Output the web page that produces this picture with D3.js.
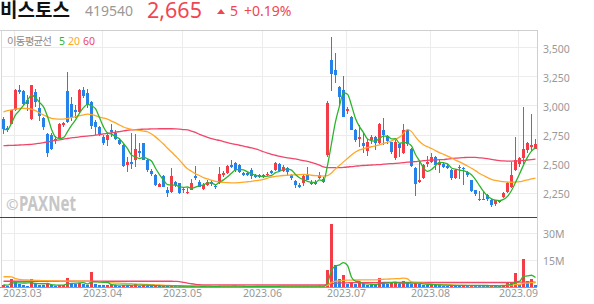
<!DOCTYPE html>
<html>
<head>
<meta charset="utf-8">
<script src="https://cdn.jsdelivr.net/npm/d3@7"></script>
<style>
  html, body { margin: 0; padding: 0; background: #fff; }
  svg { display: block; font-family: "Noto Sans", "Noto Sans CJK KR", sans-serif; }
</style>
</head>
<body>
<svg id="chart" width="594" height="304"></svg>
<script>
// trading days: weekdays from firstDay to lastDay minus KRX holidays
var firstDay = '2023-02-24', lastDay = '2023-09-07';
var holidays = ['2023-03-01', '2023-05-01', '2023-05-05', '2023-05-29', '2023-06-06', '2023-08-15'];

var stockName = '비스토스', stockCode = '419540';

var opens = [2880,2810,2845,2960,3135,3125,3045,2880,3120,2975,2890,2755,2745,2715,2715,2830,3125,3010,2960,2945,
  3135,3110,3030,2860,2815,2730,2700,2790,2760,2705,2660,2485,2515,2530,2610,2675,2530,2435,2405,2300,
  2395,2275,2260,2340,2330,2270,2245,2275,2390,2345,2285,2320,2345,2310,2330,2400,2420,2490,2505,2490,
  2420,2420,2445,2405,2405,2405,2400,2435,2445,2500,2440,2465,2405,2350,2315,2330,2400,2345,2345,2375,
  2370,2575,3390,3305,3160,3135,2950,2900,2790,2710,2675,2610,2705,2730,2675,2785,2735,2685,2545,2665,
  2590,2785,2625,2460,2340,2375,2500,2515,2555,2490,2495,2480,2445,2375,2475,2465,2430,2355,2270,2185,
  2185,2230,2190,2150,2170,2210,2260,2295,2445,2500,2545,2620,2645,2630];
var highs = [2900,2825,2965,3145,3175,3135,3090,3180,3145,3075,2900,2760,2760,2735,2850,2855,3285,3075,3005,3140,
  3155,3145,3040,2875,2820,2745,2760,2845,2790,2720,2675,2560,2760,2755,2680,2680,2540,2455,2410,2330,
  2400,2300,2465,2350,2335,2290,2290,2365,2480,2355,2330,2360,2355,2320,2475,2440,2490,2535,2510,2495,
  2430,2430,2460,2415,2410,2415,2425,2445,2515,2505,2490,2475,2410,2355,2335,2400,2470,2355,2355,2430,
  2385,3035,3585,3450,3165,3255,2990,2910,2800,2830,2760,2710,2745,2735,2850,2890,2745,2690,2700,2675,
  2845,2790,2635,2470,2525,2500,2565,2590,2565,2530,2510,2500,2450,2455,2485,2475,2440,2360,2275,2265,
  2265,2240,2195,2190,2185,2260,2345,2515,2730,2555,2990,2685,2925,2710];
var lows = [2755,2770,2840,2955,3100,2995,2950,2875,2990,2870,2785,2560,2620,2665,2710,2815,2850,2870,2890,2930,
  3060,2975,2800,2750,2735,2660,2650,2730,2705,2660,2470,2430,2450,2475,2560,2530,2430,2390,2310,2295,
  2295,2215,2250,2300,2240,2245,2240,2270,2360,2295,2275,2305,2305,2285,2325,2385,2410,2460,2430,2420,
  2390,2395,2370,2380,2380,2375,2395,2410,2435,2435,2430,2405,2360,2290,2290,2310,2355,2320,2315,2365,
  2335,2560,3125,3190,2990,2900,2930,2785,2690,2640,2595,2565,2665,2615,2670,2660,2665,2580,2535,2560,
  2585,2655,2470,2225,2330,2365,2475,2505,2445,2420,2465,2455,2360,2365,2365,2320,2385,2255,2225,2180,
  2185,2180,2125,2135,2165,2205,2250,2290,2440,2475,2500,2590,2610,2625];
var closes = [2795,2790,2960,3130,3115,3010,3010,3175,3030,2910,2815,2595,2630,2695,2845,2850,2860,2890,2940,3135,
  3080,3005,2825,2815,2755,2680,2745,2770,2710,2665,2480,2515,2500,2630,2595,2535,2445,2410,2315,2325,
  2300,2245,2390,2320,2245,2280,2260,2330,2375,2300,2320,2345,2325,2300,2410,2420,2480,2475,2445,2430,
  2400,2400,2390,2385,2385,2385,2415,2420,2505,2440,2470,2430,2375,2320,2295,2390,2360,2325,2325,2400,
  2345,3025,3270,3265,3075,2905,2970,2790,2700,2725,2650,2690,2725,2675,2845,2745,2695,2600,2690,2635,
  2790,2665,2480,2325,2360,2490,2515,2555,2490,2505,2475,2465,2375,2445,2460,2450,2400,2265,2240,2200,
  2200,2200,2145,2185,2180,2250,2330,2400,2530,2545,2630,2675,2660,2665];

// moving averages (20 and 60 day)
var ma20 = [2946,2955,2962,2968,2974,2975,2974,2968,2955,2935,2918,2902,2890,2885,2883,2883,2888,2896,2905,2912,
  2920,2926,2922,2912,2900,2892,2882,2866,2850,2832,2815,2803,2795,2790,2786,2780,2774,2755,2730,2700,
  2668,2632,2600,2565,2530,2490,2455,2435,2412,2398,2380,2368,2358,2348,2342,2338,2336,2335,2335,2337,
  2340,2344,2348,2353,2358,2365,2375,2385,2390,2395,2398,2400,2402,2403,2405,2407,2405,2400,2397,2395,
  2393,2396,2420,2455,2485,2515,2545,2575,2600,2618,2628,2637,2645,2652,2662,2672,2684,2696,2710,2728,
  2760,2795,2775,2730,2690,2662,2645,2630,2612,2595,2580,2565,2550,2530,2515,2498,2480,2460,2440,2415,
  2398,2380,2365,2355,2350,2345,2342,2340,2342,2345,2352,2360,2368,2375];
var ma60 = [2655,2656,2657,2658,2660,2662,2664,2666,2670,2675,2680,2686,2693,2699,2705,2711,2716,2721,2726,2730,
  2734,2737,2740,2745,2750,2755,2760,2765,2770,2776,2782,2786,2790,2793,2795,2796,2797,2798,2799,2800,
  2800,2800,2800,2799,2797,2793,2790,2780,2768,2752,2738,2726,2715,2706,2700,2690,2680,2672,2665,2658,
  2650,2643,2635,2626,2615,2602,2590,2580,2572,2563,2555,2550,2545,2540,2532,2526,2520,2510,2500,2487,
  2472,2466,2465,2465,2466,2468,2471,2475,2478,2481,2484,2486,2488,2490,2492,2495,2498,2500,2502,2505,
  2508,2512,2515,2518,2522,2525,2528,2530,2532,2534,2535,2539,2543,2547,2550,2552,2554,2554,2553,2550,
  2548,2543,2537,2531,2526,2523,2522,2522,2523,2525,2527,2531,2535,2538];

// volume, millions of shares
var volumes = [1.3,0.7,4.4,3.1,1.8,1.1,0.8,4.4,1.6,1.3,0.9,1.6,0.9,0.7,1.0,1.2,4.9,2.0,1.5,2.0,
  1.6,1.2,8.2,1.6,1.2,1.0,1.1,1.3,0.9,0.7,1.2,0.9,1.0,1.4,0.8,0.9,0.8,0.6,0.7,0.5,
  0.6,0.5,0.9,0.5,0.4,0.4,0.3,0.5,0.6,0.4,0.3,0.4,0.3,0.3,0.8,0.5,0.6,0.5,0.4,0.3,
  0.3,0.3,0.4,0.3,0.3,0.3,0.4,0.3,0.6,0.5,0.4,0.4,0.5,0.6,0.4,0.6,0.5,0.4,0.3,0.9,
  0.5,9.5,35,12.4,4.2,6.9,1.5,2.2,1.5,2.5,1.4,1.2,1.0,0.9,4.9,2.7,1.5,2.2,2.4,1.5,
  3.3,2.0,1.6,2.2,1.5,1.2,1.0,1.4,1.2,1.0,0.8,0.7,1.0,0.9,0.8,1.0,0.7,1.1,0.9,0.8,
  0.7,0.6,0.8,0.7,0.5,1.0,2.2,2.7,7.7,1.8,15.3,3.3,4.6,1.1];
var vma20 = [5.7,5.7,5.6,4.6,4.2,4.0,3.9,3.8,3.7,3.6,3.5,3.5,3.4,3.4,3.3,3.3,3.3,3.3,3.2,3.2,
  3.2,3.1,3.1,3.0,2.8,2.6,2.4,2.3,2.2,2.1,2.0,1.9,1.8,1.7,1.6,1.5,1.4,1.3,1.2,1.1,
  1.0,0.9,0.8,0.7,0.6,0.6,0.5,0.5,0.5,0.5,0.5,0.5,0.5,0.5,0.5,0.5,0.5,0.5,0.5,0.5,
  0.5,0.5,0.5,0.5,0.5,0.5,0.5,0.5,0.5,0.5,0.5,0.5,0.5,0.5,0.5,0.5,0.5,0.5,0.5,0.5,
  0.5,0.9,2.6,3.2,3.4,3.7,3.8,3.8,3.9,3.9,4.0,4.0,4.0,4.0,4.2,4.3,4.4,4.5,4.6,4.7,
  4.9,4.5,2.8,2.5,2.3,2.1,1.9,1.7,1.5,1.4,1.3,1.2,1.1,1.0,0.9,0.9,0.8,0.8,0.8,0.8,
  0.8,0.8,0.8,0.8,0.8,0.9,1.0,1.1,1.4,1.4,2.1,2.2,2.4,2.4];
var vma60 = [3.2,3.2,3.2,3.2,3.2,3.2,3.2,3.2,3.2,3.2,3.2,3.2,3.2,3.2,3.2,3.2,3.2,3.2,3.2,3.2,
  3.2,3.2,3.2,3.2,3.2,3.2,3.2,3.2,3.2,3.2,3.2,3.2,3.2,3.2,3.2,3.2,3.2,3.2,3.2,3.2,
  3.2,3.2,3.2,3.1,3.0,2.6,2.2,1.8,1.5,1.3,1.2,1.2,1.2,1.2,1.2,1.2,1.2,1.2,1.2,1.2,
  1.2,1.2,1.2,1.1,1.1,1.1,1.1,1.1,1.1,1.1,1.1,1.1,1.1,1.1,1.1,1.1,1.1,1.1,1.1,1.1,
  1.1,1.3,1.9,2.1,2.2,2.3,2.3,2.4,2.4,2.4,2.4,2.4,2.4,2.4,2.4,2.5,2.5,2.5,2.5,2.5,
  2.5,2.5,2.5,2.5,2.5,2.5,2.5,2.5,2.5,2.5,2.5,2.5,2.5,2.5,2.5,2.5,2.5,2.5,2.5,2.5,
  2.5,2.5,2.5,2.5,2.5,2.5,2.5,2.6,2.6,2.7,2.7,2.7,2.7,2.7];

var priceTicks = [2250, 2500, 2750, 3000, 3250, 3500];
var volumeTicks = [15, 30];
var maPeriods = [5, 20, 60];

var upColor = '#f23c48', downColor = '#2482e8';
var maColors = ['#2db42d', '#ffa726', '#f2456a'];

var svg = d3.select('#chart');
var left = 1, right = 537, priceTop = 30, priceBottom = 217, volBottom = 287;

var parseDay = d3.utcParse('%Y-%m-%d'), fmtDay = d3.utcFormat('%Y-%m-%d');
var days = d3.utcDays(parseDay(firstDay), d3.utcDay.offset(parseDay(lastDay), 1))
  .filter(function(d) { return d.getUTCDay() % 6 !== 0 && holidays.indexOf(fmtDay(d)) < 0; })
  .map(fmtDay);

var x = d3.scaleBand().domain(days).range([left, right]);
var y = d3.scaleLinear().domain([2041, 3649]).range([priceBottom, priceTop]);
var yv = d3.scaleLinear().domain([0, 38.9]).range([volBottom, priceBottom]);
var cx = function(i) { return x(days[i]) + 2.5; };

function rolling(values, n) {
  return values.map(function(v, i) { return d3.mean(values.slice(Math.max(0, i - n + 1), i + 1)); });
}
var ma5 = rolling(closes, 5);
var vma5 = rolling(volumes, 5);

var defs = svg.append('defs');
defs.append('clipPath').attr('id', 'clipPrice').append('rect')
  .attr('x', left).attr('y', priceTop).attr('width', right - left).attr('height', priceBottom - priceTop);
defs.append('clipPath').attr('id', 'clipVol').append('rect')
  .attr('x', left).attr('y', priceBottom).attr('width', right - left).attr('height', volBottom - priceBottom);

// month starts
var monthStarts = days.filter(function(d, i) { return i > 0 && d.slice(5, 7) !== days[i - 1].slice(5, 7); });

// grid
var grid = svg.append('g').attr('stroke', '#ececec').attr('shape-rendering', 'crispEdges');
grid.selectAll('.gx').data(monthStarts).join('line')
  .attr('x1', function(d) { return x(d) + 1.5; }).attr('x2', function(d) { return x(d) + 1.5; })
  .attr('y1', priceTop).attr('y2', volBottom);
grid.selectAll('.gy').data(priceTicks).join('line')
  .attr('x1', left).attr('x2', right)
  .attr('y1', function(d) { return Math.round(y(d)) + 0.5; }).attr('y2', function(d) { return Math.round(y(d)) + 0.5; });
grid.selectAll('.gv').data(volumeTicks).join('line')
  .attr('x1', left).attr('x2', right)
  .attr('y1', function(d) { return Math.round(yv(d)) + 0.5; }).attr('y2', function(d) { return Math.round(yv(d)) + 0.5; });

// watermark
svg.append('text').attr('x', 6).attr('y', 210).attr('font-size', 15).attr('fill', '#c6c6c6')
  .attr('font-weight', 'bold').text('©');
svg.append('text').attr('x', 19).attr('y', 211).attr('font-size', 21).attr('fill', '#c6c6c6')
  .attr('font-weight', 'bold').attr('textLength', 57).attr('lengthAdjust', 'spacingAndGlyphs').text('PAXNet');

// candles
var candles = svg.append('g').attr('clip-path', 'url(#clipPrice)').attr('shape-rendering', 'crispEdges')
  .selectAll('g').data(days).join('g')
  .attr('fill', function(d, i) { return closes[i] >= opens[i] ? upColor : downColor; })
  .attr('stroke', function(d, i) { return closes[i] >= opens[i] ? upColor : downColor; });
candles.append('line')
  .attr('x1', function(d, i) { return cx(i); }).attr('x2', function(d, i) { return cx(i); })
  .attr('y1', function(d, i) { return y(highs[i]); }).attr('y2', function(d, i) { return y(lows[i]); });
candles.append('rect').attr('stroke', 'none')
  .attr('x', function(d) { return x(d) + 1; }).attr('width', 3)
  .attr('y', function(d, i) { return y(Math.max(opens[i], closes[i])); })
  .attr('height', function(d, i) { return Math.max(1, Math.abs(y(opens[i]) - y(closes[i]))); });

// price moving averages
var priceLine = d3.line().x(function(d, i) { return cx(i); }).y(function(d) { return y(d); }).curve(d3.curveMonotoneX);
var priceMA = svg.append('g').attr('clip-path', 'url(#clipPrice)').attr('fill', 'none').attr('stroke-width', 1.3);
[ma60, ma20, ma5].forEach(function(s, k) {
  priceMA.append('path').attr('d', priceLine(s)).attr('stroke', maColors[2 - k]);
});

// volume bars
svg.append('g').attr('clip-path', 'url(#clipVol)').attr('shape-rendering', 'crispEdges')
  .selectAll('rect').data(days).join('rect')
  .attr('x', function(d) { return x(d) + 1; }).attr('width', 3)
  .attr('y', function(d, i) { return yv(volumes[i]); })
  .attr('height', function(d, i) { return volBottom - yv(volumes[i]); })
  .attr('fill', function(d, i) { return i === 0 || volumes[i] >= volumes[i - 1] ? upColor : downColor; });

var volLine = d3.line().x(function(d, i) { return cx(i); }).y(function(d) { return yv(d); }).curve(d3.curveMonotoneX);
var volMA = svg.append('g').attr('clip-path', 'url(#clipVol)').attr('fill', 'none').attr('stroke-width', 1.3);
[vma60, vma20, vma5].forEach(function(s, k) {
  volMA.append('path').attr('d', volLine(s)).attr('stroke', maColors[2 - k]);
});

// frame
var frame = svg.append('g').attr('shape-rendering', 'crispEdges');
frame.append('line').attr('x1', 0).attr('x2', right).attr('y1', priceTop + 0.5).attr('y2', priceTop + 0.5).attr('stroke', '#cfcfcf');
frame.append('line').attr('x1', 1.5).attr('x2', 1.5).attr('y1', priceTop).attr('y2', volBottom).attr('stroke', '#d8d8d8');
frame.append('line').attr('x1', right + 0.5).attr('x2', right + 0.5).attr('y1', priceTop).attr('y2', volBottom).attr('stroke', '#cfcfcf');
frame.append('line').attr('x1', 0).attr('x2', right).attr('y1', priceBottom + 0.5).attr('y2', priceBottom + 0.5).attr('stroke', '#444');
frame.append('line').attr('x1', 0).attr('x2', right).attr('y1', volBottom + 0.5).attr('y2', volBottom + 0.5).attr('stroke', '#9a9a9a');

// right axes
var axisText = svg.append('g').attr('fill', '#999').attr('font-size', 10.5);
axisText.selectAll('.py').data(priceTicks).join('text')
  .attr('x', 543).attr('y', function(d) { return y(d) + 5.5; })
  .text(function(d) { return d3.format(',')(d); });
axisText.selectAll('.vy').data(volumeTicks).join('text')
  .attr('x', 543).attr('y', function(d) { return yv(d) + 5; })
  .text(function(d) { return d + 'M'; });

// month labels
axisText.selectAll('.mx').data(monthStarts).join('text')
  .attr('y', 297)
  .text(function(d) { return d.slice(0, 7).replace('-', '.'); })
  .each(function(d) {
    var w = this.getComputedTextLength(), c = x(d) + 1.5;
    d3.select(this).attr('x', Math.max(3, c - w / 2));
  });

// legend
svg.append('text').attr('x', 7).attr('y', 45).attr('font-size', 10.5).attr('fill', '#8a8a8a')
  .attr('font-family', '"Noto Sans CJK KR", sans-serif').attr('textLength', 45).text('이동평균선');
var legendX = [59, 68, 83];
svg.selectAll('.lg').data(maPeriods).join('text')
  .attr('x', function(d, i) { return legendX[i]; }).attr('y', 45).attr('font-size', 10.5)
  .attr('fill', function(d, i) { return maColors[i]; }).text(function(d) { return d; });

// header
var last = closes[closes.length - 1], prev = closes[closes.length - 2];
var change = last - prev;
var headColor = change >= 0 ? '#f04650' : downColor;
svg.append('text').attr('x', 0).attr('y', 17).attr('font-size', 19).attr('font-weight', 'bold')
  .attr('fill', '#111').attr('font-family', '"Noto Sans CJK KR", sans-serif').text(stockName);
svg.append('text').attr('x', 85).attr('y', 16).attr('font-size', 14).attr('fill', '#999').text(stockCode);
svg.append('text').attr('x', 147).attr('y', 18).attr('font-size', 21.5).attr('fill', headColor).text(d3.format(',')(last));
svg.append('path').attr('d', 'M217,14L225,14L221,9Z').attr('fill', headColor);
svg.append('text').attr('x', 230).attr('y', 16).attr('font-size', 14).attr('fill', headColor).text(Math.abs(change));
svg.append('text').attr('x', 244).attr('y', 16).attr('font-size', 14).attr('fill', headColor)
  .text((change >= 0 ? '+' : '') + d3.format('.2f')(change / prev * 100) + '%');
</script>
</body>
</html>
